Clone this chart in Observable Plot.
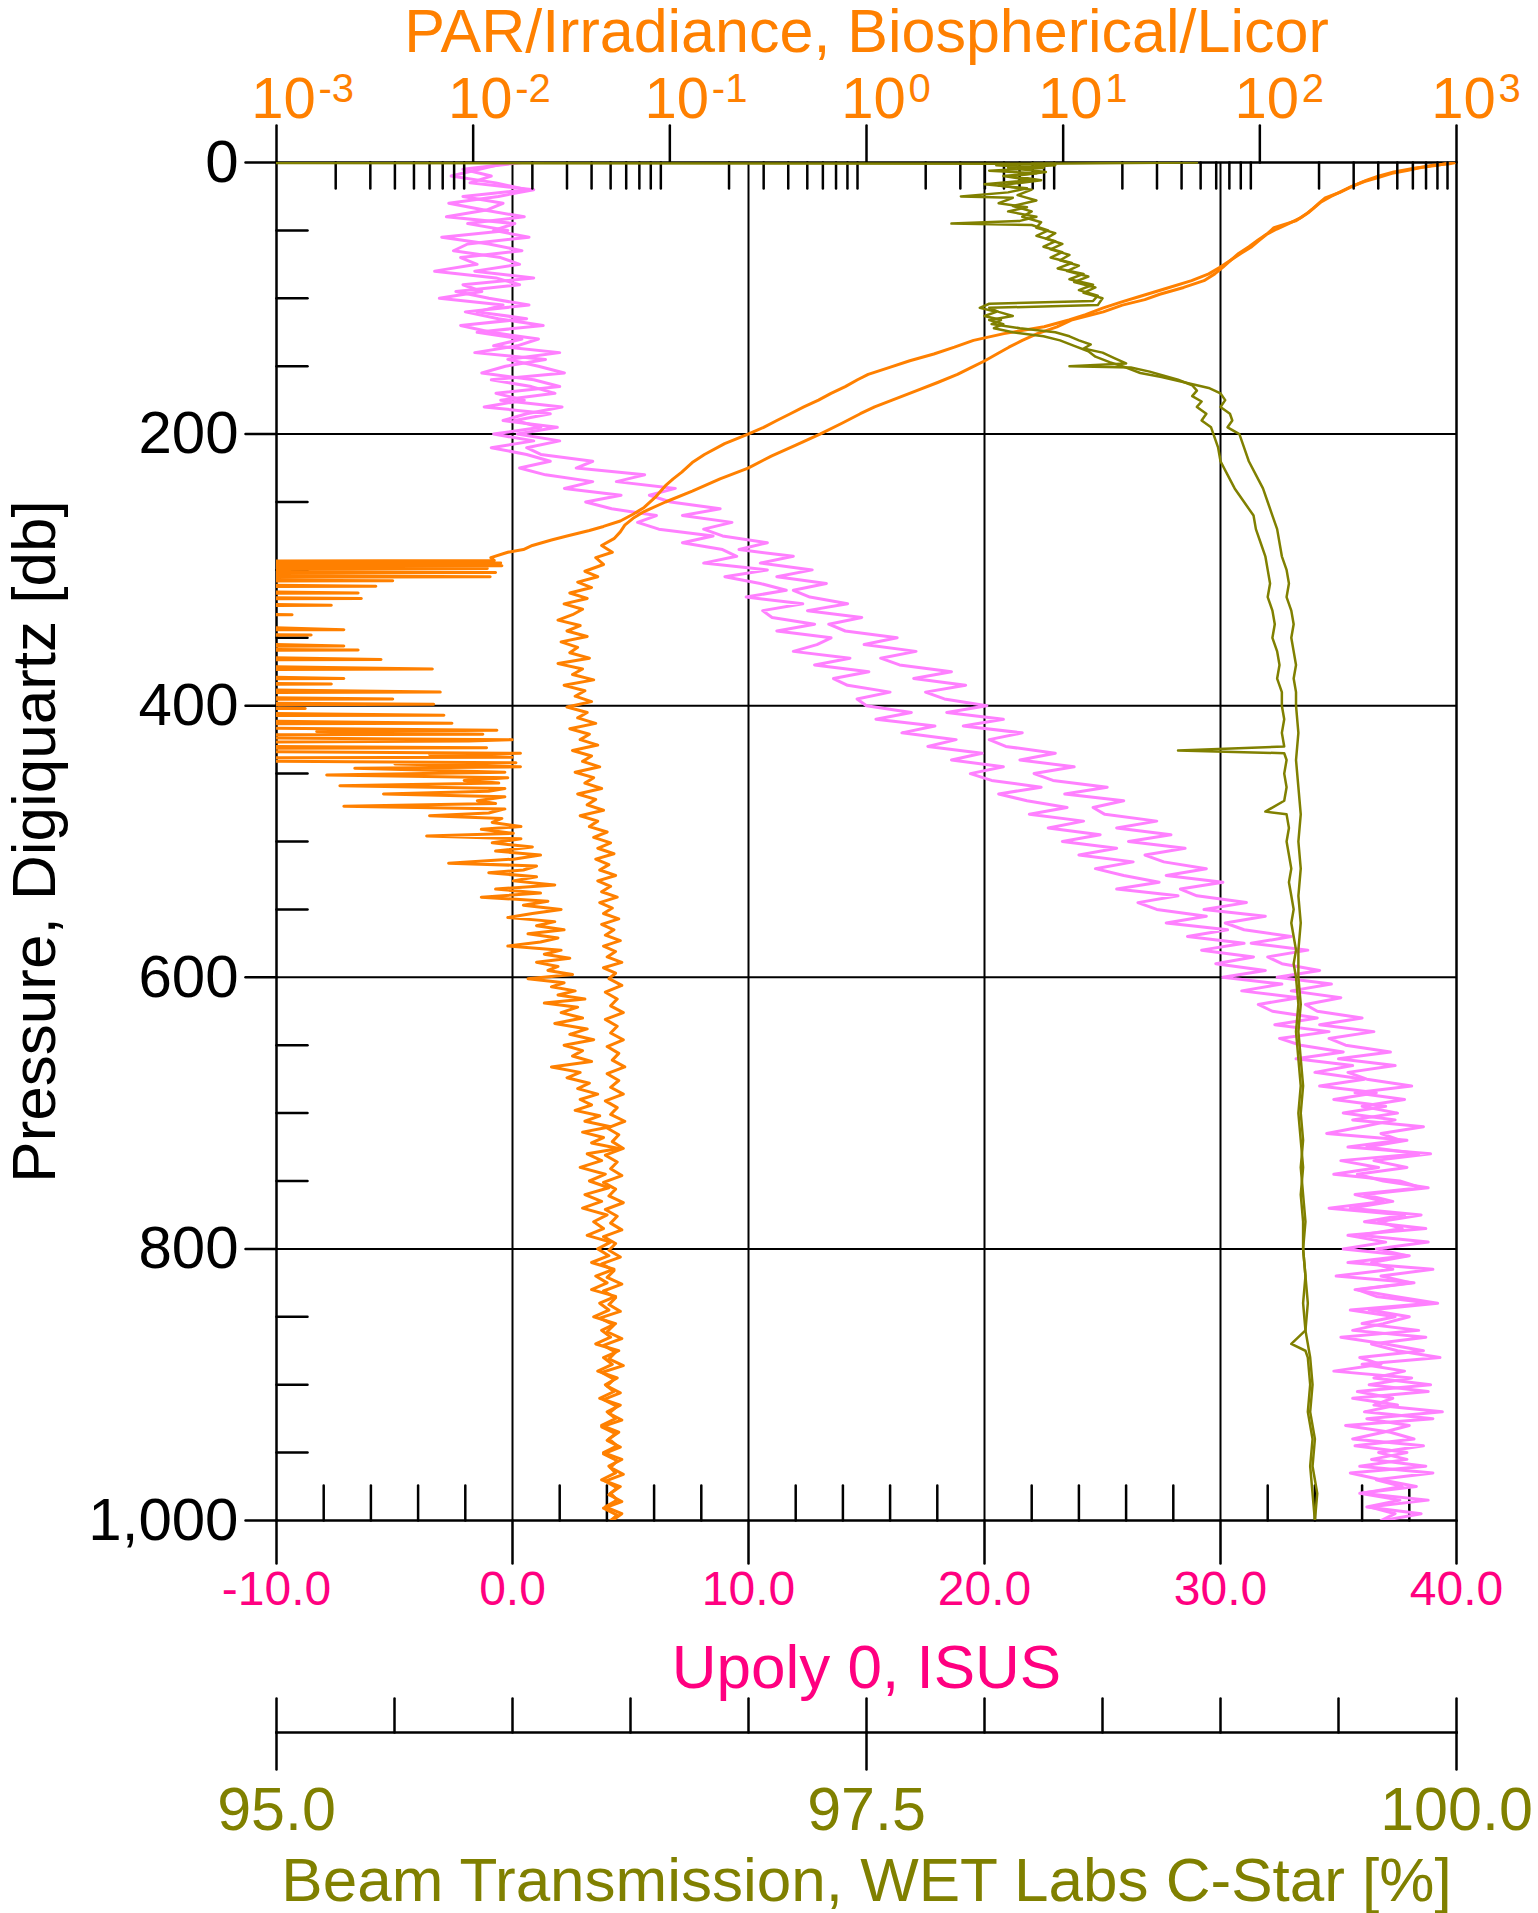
<!DOCTYPE html>
<html><head><meta charset="utf-8">
<script src="https://cdn.jsdelivr.net/npm/d3@7"></script>
<script src="https://cdn.jsdelivr.net/npm/@observablehq/plot@0.6"></script>
<style>
body{margin:0;background:#fff;}
#chart{position:relative;width:1538px;height:1913px;}
#chart svg{position:absolute;left:0;top:0;background:transparent !important;}
</style></head><body><div id="chart"></div>
<script>
// ---------------- DATA ----------------
const pressureTicks = [0, 200, 400, 600, 800, 1000];
const pressureMinor = [50,100,150,250,300,350,450,500,550,650,700,750,850,900,950];
const upolyTicks = [-10, 0, 10, 20, 30, 40];
const upolyMinor = [-8,-6,-4,-2,2,4,6,8,12,14,16,18,22,24,26,28,32,34,36,38];
const parDecades = [1e-3, 1e-2, 1e-1, 1, 10, 100, 1000];
const parExponents = ["-3", "-2", "-1", "0", "1", "2", "3"];
const beamTicks = [95,95.5,96,96.5,97,97.5,98,98.5,99,99.5,100];
const beamMajor = [95, 97.5, 100];

const parTitle = "PAR/Irradiance, Biospherical/Licor";
const upolyTitle = "Upoly 0, ISUS";
const beamTitle = "Beam Transmission, WET Labs C-Star [%]";
const pressureTitle = "Pressure, Digiquartz [db]";

// Upoly (ISUS) casts, one value every 5 db from 0 to 1000
const upolyDepth = d3.range(0, 1001, 5);
const upolyCastA = [
-0.2,-1.4,-2.6,-0.7,0.6,-2.1,-0.4,-1.1,-2.8,0.1,-0.8,0.7,-1.9,-2.5,-0.5,0.3,-1.6,0.9,-2.1,-1.3,
-3.1,-0.4,-1.5,0.6,-2.2,-0.9,1.1,0.2,-1.6,1.4,-0.3,-1.3,0.9,2.0,-0.7,0.5,-1.2,1.6,0.1,1.2,
-0.8,0.9,-0.9,0.6,1.6,0.3,1.4,3.4,2.2,4.6,3.1,4.2,6.1,5.3,6.2,8.5,7.2,8.9,9.5,8.1,
10.8,9.0,10.5,11.6,9.9,12.3,10.6,11.0,12.8,11.2,13.5,12.9,11.9,14.3,12.8,15.1,13.6,14.2,16.0,14.6,
15.0,16.9,15.4,17.9,16.5,18.8,17.6,19.9,18.6,20.8,19.4,20.3,22.4,20.6,21.8,23.5,21.9,24.2,22.7,24.9,
23.3,25.6,24.0,26.3,24.7,25.9,27.4,25.6,28.2,26.5,27.3,29.4,27.7,30.3,28.6,31.0,29.2,31.4,29.8,31.9,
30.1,32.6,30.9,33.3,31.6,32.2,34.1,32.3,34.6,32.5,33.4,35.2,33.2,35.6,34.0,36.1,34.2,36.6,34.8,37.0,
35.2,37.4,36.0,34.5,37.9,36.2,38.4,35.1,36.7,34.8,37.6,38.5,35.7,36.9,34.6,37.8,36.1,38.7,35.4,37.0,
35.2,38.0,36.4,37.3,34.9,38.2,35.8,36.6,38.9,35.5,37.4,36.0,38.4,35.1,37.0,38.6,35.9,36.8,34.8,38.1,
36.3,38.8,35.6,37.5,36.1,39.0,35.3,37.2,38.2,35.7,37.9,36.4,38.7,35.5,36.8,38.3,35.9,37.6,36.2,38.5,
36.9];
const upolyCastB = [
0.4,-2.1,-0.9,-1.8,0.9,-0.6,-2.7,-1.2,0.5,-1.9,-0.2,-3.0,-1.0,0.4,-2.2,-1.5,-3.3,-0.7,0.3,-2.4,
-1.0,0.7,-2.0,-0.6,1.3,-1.5,0.4,-0.8,2.0,-0.2,1.1,2.2,-0.9,0.8,1.8,-0.5,2.1,0.6,-0.4,1.9,
0.2,2.0,0.6,1.2,3.4,2.7,5.6,4.4,6.9,5.8,6.7,8.8,7.2,9.3,8.1,8.9,10.8,9.6,11.9,10.5,
12.7,11.2,13.3,11.9,12.6,14.2,12.5,14.8,13.4,14.1,16.3,14.9,17.1,15.6,16.4,18.6,17.0,19.2,17.5,18.3,
20.1,18.4,20.8,19.1,21.6,20.2,20.9,23.0,21.5,23.8,22.1,22.9,25.2,23.4,25.9,24.6,25.1,27.3,25.6,27.9,
26.1,28.5,26.8,27.6,29.4,27.7,30.1,28.3,29.0,31.1,29.3,31.9,30.2,31.0,33.0,31.3,33.7,32.0,32.6,34.2,
32.4,34.7,33.0,35.1,33.6,34.1,36.0,34.2,36.5,34.6,35.3,37.2,35.0,37.4,35.4,36.2,38.1,35.7,37.8,36.0,
37.5,35.6,38.6,36.8,37.6,35.4,38.9,36.5,37.9,35.8,36.9,38.8,36.1,37.3,35.5,38.5,36.7,37.7,35.9,38.8,
36.6,37.9,35.4,39.0,36.8,38.1,35.7,37.4,39.2,36.3,38.0,36.9,35.6,38.7,36.4,37.5,39.3,36.0,37.8,36.5,
38.9,35.8,37.3,36.5,39.4,36.2,38.0,36.9,35.6,38.6,36.7,37.9,35.9,39.0,36.6,37.7,36.0,38.8,36.3,37.4,
36.8];

// PAR casts: [pressure db, PAR]; 1e-5 = below the 10^-3 axis floor
const parCastL = [
[0,1000],[1,920],[2,760],[4,640],[6,560],[8,470],[11,400],[14,340],[18,290],[22,255],[26,215],[30,200],[34,186],[38,172],[43,152],[48,118],[52,110],[57,98],[62,88],[67,78],[72,71],[77,63],[82,55],[87,45],[93,33],[99,24],[103,19.5],[107,16],[112,13],[116,10.7],[121,8.0],[126,5.0],[131,3.5],[136,2.8],[141,2.2],[146,1.66],[151,1.3],[156,1.02],[160,0.9],[165,0.78],[170,0.66],[175,0.57],[180,0.48],[185,0.41],[190,0.35],[195,0.3],[200,0.25],[207,0.19],[215,0.15],[221,0.13],[228,0.115],[233,0.104],[238,0.095],[246,0.085],[254,0.074],[259,0.065],[264,0.056],[268,0.046],[271,0.039],[275,0.03],[278,0.025],[282,0.02],[285,0.018],[287,0.015],[291,0.0123],
[293,0.0128],[294,1e-5],[295,0.0138],[296,1e-5],[297,0.014],[298,1e-5],[299,0.0118],[300,1e-5],[302,0.013],[303,1e-5],[305,0.0122],[306,1e-5],[308,0.0039],[309,1e-5],[312,0.0032],[313,1e-5],[317,0.0026],[318,1e-5],[321,0.0027],[322,1e-5],[326,0.0019],[327,1e-5],[333,0.0012],[334,1e-5],[344,0.0022],[345,1e-5],[348,0.0015],[349,1e-5],[356,0.0022],[357,1e-5],[359,0.0026],[360,1e-5],[366,0.0034],[367,1e-5],[373,0.0062],[374,1e-5],[380,0.0022],[381,1e-5],[384,0.0019],[385,1e-5],[390,0.0068],[391,1e-5],[395,0.0039],[396,1e-5],[399,0.0063],[400,1e-5],[402,0.0014],[403,1e-5],[407,0.0071],[408,1e-5],[413,0.0078],[414,1e-5],[418,0.0132],[419,0.0016],[421,0.0112],[422,1e-5],[425,0.0158],[426,0.0095],[428,1e-5],[431,0.0117],[432,1e-5],[435,0.0174],[436,0.006],[438,0.0158],[439,1e-5],[442,0.0165],[443,0.004],[445,0.0174],[446,0.0025],[449,0.0145],[451,0.0018],[453,0.015],[455,0.009],[457,0.0135],[459,0.0021],[461,0.0145],[463,0.012],[465,0.0035],[467,0.0145],[470,0.0105],[472,0.013],[474,0.0022],[476,0.0145],[479,0.012],[481,0.006],[483,0.014],[486,0.0125],[489,0.0175],[491,0.011],[494,0.016],[496,0.0058],[498,0.0175],[501,0.0125],[504,0.02],[507,0.013],[510,0.022],[513,0.016],[516,0.0075],[518,0.021],[521,0.018],
[523,0.012],[526,0.021],[529,0.016],[532,0.026],[535,0.013],[538,0.022],[541,0.011],[544,0.024],[547,0.018],[550,0.028],[553,0.02],[556,0.015],[559,0.026],[562,0.021],[565,0.029],[568,0.019],[571,0.027],[574,0.022],[577,0.015],[580,0.028],[583,0.023],[586,0.031],[589,0.021],[592,0.027],[595,0.024],[598,0.032],[601,0.019],[604,0.029],[607,0.025],[610,0.033],[613,0.027],[616,0.037],[619,0.023],[622,0.034],[626,0.028],[630,0.036],[634,0.026],[638,0.038],[642,0.031],[646,0.041],[650,0.029],[654,0.036],[658,0.032],[662,0.04],[666,0.025],[670,0.035],[674,0.03],[678,0.039],[682,0.034],[686,0.043],[690,0.035],[694,0.04],[698,0.033],[702,0.044],[706,0.037],[710,0.05],[714,0.036],[718,0.046],[722,0.04],[726,0.055],[730,0.038],[735,0.045],[740,0.035],[745,0.047],[750,0.039],[755,0.049],[760,0.037],[765,0.045],[770,0.036],[775,0.048],[780,0.041],[785,0.046],[790,0.038],[795,0.05],[800,0.043],
[805,0.049],[810,0.04],[815,0.052],[820,0.042],[825,0.048],[830,0.04],[835,0.053],[840,0.044],[845,0.049],[850,0.041],[855,0.053],[860,0.045],[865,0.05],[870,0.042],[875,0.055],[880,0.046],[885,0.051],[890,0.043],[895,0.054],[900,0.047],[905,0.052],[910,0.044],[915,0.056],[920,0.048],[925,0.053],[930,0.045],[935,0.055],[940,0.049],[945,0.054],[950,0.046],[955,0.057],[960,0.049],[965,0.053],[970,0.045],[975,0.056],[980,0.05],[985,0.054],[990,0.047],[995,0.057],[1000,0.051]];

const parCastR = [
[0,950],[2,800],[4,620],[7,480],[10,400],[13,350],[17,300],[21,262],[25,230],[29,205],[33,190],[37,176],[41,160],[45,140],[49,122],[53,108],[57,100],[62,91],[67,80],[72,71],[77,65],[82,59],[87,52],[92,41],[97,31],[101,26],[105,20],[110,16],[116,11],[121,9.3],[126,7.4],[131,6.2],[136,5.3],[141,4.6],[146,4.0],[151,3.4],[156,2.9],[162,2.3],[168,1.8],[175,1.35],[180,1.1],[185,0.93],[192,0.75],[200,0.58],[208,0.44],[216,0.33],[225,0.25],[233,0.18],[242,0.13],[250,0.095],[257,0.074],[262,0.065],[267,0.059],[272,0.056],[277,0.052],[282,0.045],[287,0.051],[291,0.042],[296,0.046],[301,0.037],[305,0.043],[309,0.034],[313,0.04],[317,0.031],[321,0.038],[325,0.029],[329,0.036],[333,0.032],[337,0.027],[341,0.035],[345,0.03],[349,0.038],[353,0.028],[357,0.034],[361,0.031],[365,0.039],[369,0.027],[373,0.036],[377,0.032],[381,0.041],[385,0.029],[389,0.037],[393,0.033],[397,0.04],[401,0.03],[405,0.038],[409,0.034],[413,0.042],[417,0.031],[421,0.039],[425,0.035],[429,0.043],[433,0.032],[437,0.04],[441,0.036],[445,0.044],[449,0.033],[453,0.041],[457,0.037],[461,0.045],[465,0.034],[469,0.042],[473,0.038],[477,0.046],[481,0.035],[485,0.043],[489,0.039],[493,0.048],[497,0.041],[501,0.05],[505,0.043],[509,0.052],[513,0.042],[517,0.049],[521,0.044],[525,0.053],[529,0.043],[533,0.05],[537,0.045],[541,0.054],[545,0.044],[549,0.051],[553,0.046],[557,0.055],[561,0.045],[565,0.052],[569,0.047],[573,0.056],[577,0.046],[581,0.053],[585,0.048],[589,0.057],[593,0.046],[597,0.053],[601,0.049],[606,0.057],[611,0.047],[616,0.054],[621,0.05],[626,0.058],[631,0.047],[636,0.054],[641,0.05],[646,0.058],[651,0.048],[656,0.055],[661,0.051],[666,0.059],[671,0.048],[676,0.055],[681,0.05],[686,0.058],[691,0.047],[696,0.054],[701,0.05],[706,0.059],[711,0.048],[716,0.055],[721,0.051],[726,0.058],[731,0.047],[736,0.054],[741,0.05],[746,0.057],[751,0.046],[756,0.053],[761,0.049],[766,0.058],[771,0.047],[776,0.054],[781,0.05],[786,0.057],[791,0.046],[796,0.053],[801,0.049],[806,0.056],[811,0.045],[816,0.052],[821,0.048],[826,0.057],[831,0.046],[836,0.053],[841,0.049],[846,0.056],[851,0.044],[856,0.052],[861,0.048],[866,0.057],[871,0.046],[876,0.053],[881,0.049],[886,0.058],[891,0.045],[896,0.052],[901,0.048],[906,0.056],[911,0.046],[916,0.054],[921,0.049],[926,0.057],[931,0.045],[936,0.053],[941,0.048],[946,0.056],[951,0.046],[956,0.054],[961,0.05],[966,0.058],[971,0.047],[976,0.054],[981,0.049],[986,0.057],[991,0.046],[996,0.054],[1000,0.05]];

// Beam transmission casts: [pressure db, %]
const beamCastA = [
[0,93],[1,98.3],[2,98.05],[4,98.25],[6,98.02],[8,98.22],[10,98.08],[13,98.2],[16,98.0],[19,98.18],[22,98.1],[25,97.9],[26,98.12],[30,98.06],[33,98.18],[36,98.1],[40,98.22],[43,98.15],[45,97.86],[46,98.2],[50,98.27],[54,98.22],[58,98.3],[62,98.25],[66,98.33],[70,98.28],[74,98.37],[78,98.31],[82,98.42],[86,98.36],[90,98.46],[94,98.4],[98,98.48],[102,98.46],[104,98.02],[107,97.98],[110,98.05],[113,98.0],[116,98.07],[119,98.03],[122,98.15],[125,98.3],[128,98.36],[131,98.4],[134,98.45],[137,98.42],[140,98.5],[144,98.55],[148,98.6],[150,98.36],[151,98.62],[154,98.7],[157,98.76],[160,98.82],[164,98.88],[168,98.9],[172,98.88],[176,98.92],[180,98.9],[185,98.94],[190,98.92],[195,98.96],[200,98.97],[210,98.99],[220,99.0],[230,99.03],[240,99.06],[250,99.1],[260,99.14],[270,99.15],[280,99.17],[290,99.19],[300,99.2],[310,99.21],[320,99.2],[330,99.22],[340,99.23],[350,99.22],[360,99.24],[370,99.25],[380,99.24],[390,99.26],[400,99.26],[410,99.27],[420,99.26],[430,99.27],[433,98.82],[435,99.27],[440,99.28],[450,99.27],[460,99.28],[470,99.27],[478,99.19],[480,99.28],[490,99.29],[500,99.28],[510,99.29],[520,99.3],[530,99.29],[540,99.3],[550,99.31],[560,99.3],[570,99.31],[580,99.32],[590,99.31],[600,99.32],[620,99.33],[640,99.32],[660,99.33],[680,99.34],[700,99.33],[720,99.34],[740,99.35],[760,99.34],[780,99.35],[800,99.35],[820,99.36],[840,99.35],[860,99.36],[870,99.3],[875,99.36],[880,99.37],[900,99.38],[920,99.37],[940,99.39],[960,99.38],[980,99.39],[1000,99.4]];
const beamCastB = [
[0,98.9],[1,98.2],[2,98.3],[4,98.1],[7,98.26],[10,98.12],[13,98.24],[17,98.06],[20,98.2],[24,98.14],[28,98.22],[32,98.12],[36,98.2],[40,98.16],[44,98.24],[48,98.22],[52,98.3],[56,98.26],[60,98.33],[64,98.28],[68,98.36],[72,98.32],[76,98.4],[80,98.35],[84,98.44],[88,98.38],[92,98.47],[96,98.42],[100,98.5],[105,98.48],[107,98.02],[110,98.06],[113,98.12],[116,98.02],[119,98.08],[122,98.04],[125,98.12],[128,98.25],[131,98.32],[135,98.38],[139,98.44],[143,98.47],[147,98.53],[151,98.6],[155,98.66],[158,98.75],[162,98.85],[166,98.95],[170,99.0],[175,99.02],[180,99.0],[185,99.04],[190,99.05],[195,99.03],[200,99.08],[210,99.1],[220,99.12],[230,99.15],[240,99.18],[250,99.2],[260,99.22],[270,99.24],[280,99.25],[290,99.26],[300,99.28],[310,99.29],[320,99.28],[330,99.3],[340,99.31],[350,99.3],[360,99.31],[370,99.32],[380,99.31],[390,99.32],[400,99.32],[420,99.33],[440,99.32],[460,99.33],[480,99.34],[500,99.33],[520,99.34],[540,99.33],[560,99.34],[580,99.33],[600,99.33],[620,99.34],[640,99.33],[660,99.34],[680,99.35],[700,99.34],[720,99.35],[740,99.34],[760,99.35],[780,99.36],[800,99.35],[820,99.36],[840,99.37],[860,99.36],[880,99.38],[900,99.39],[920,99.38],[940,99.4],[960,99.39],[980,99.41],[1000,99.4]];

// ---------------- STYLE / LAYOUT ----------------
const W = 1538, H = 1913;
const M = {marginTop: 162, marginBottom: 393, marginLeft: 276, marginRight: 82};
const FONT = "'Liberation Sans', Arial, sans-serif";
const ORANGE = "#FF8000", PINK = "#FF80FF", MAGENTA = "#FF0080", OLIVE = "#808000";
const tick = {draw(c, l) { c.moveTo(0, 0); c.lineTo(0, -l); }};
const svgStyle = {background: "transparent", fontFamily: FONT, overflow: "visible"};
const yScale = {domain: [0, 1000], reverse: true, axis: null};
const parMinor = [0.001, 0.01, 0.1, 1, 10, 100].flatMap(d => [2,3,4,5,6,7,8,9].map(m => m * d));

const base = Plot.plot({
  width: W, height: H, ...M, style: svgStyle,
  x: {domain: [-10, 40], axis: null}, y: yScale,
  marks: [
    Plot.ruleX([0, 10, 20, 30], {x: d => d, stroke: "#000", strokeWidth: 2}),
    Plot.ruleY([200, 400, 600, 800], {y: d => d, stroke: "#000", strokeWidth: 2}),
    Plot.frame({stroke: "#000", strokeWidth: 2.5}),
    Plot.vector(pressureTicks, {y: d => d, frameAnchor: "left", length: 31, rotate: -90, anchor: "start", shape: tick, stroke: "#000", strokeWidth: 2.5}),
    Plot.vector(pressureMinor, {y: d => d, frameAnchor: "left", length: 31, rotate: 90, anchor: "start", shape: tick, stroke: "#000", strokeWidth: 2.5}),
    Plot.text(pressureTicks, {y: d => d, frameAnchor: "left", dx: -38, textAnchor: "end", text: d => d3.format(",")(d), fontSize: 60, fontFamily: FONT, fill: "#000"}),
    Plot.vector(upolyTicks, {x: d => d, frameAnchor: "bottom", length: 43, rotate: 180, anchor: "start", shape: tick, stroke: "#000", strokeWidth: 2.5}),
    Plot.vector(upolyMinor, {x: d => d, frameAnchor: "bottom", length: 35, rotate: 0, anchor: "start", shape: tick, stroke: "#000", strokeWidth: 2.5}),
    Plot.text(upolyTicks, {x: d => d, frameAnchor: "bottom", dy: 50, lineAnchor: "top", text: d => d.toFixed(1), fontSize: 48, fontFamily: FONT, fill: MAGENTA}),
    Plot.text([upolyTitle], {frameAnchor: "bottom", dy: 167, lineAnchor: "bottom", fontSize: 62, fontFamily: FONT, fill: MAGENTA}),
    Plot.text([pressureTitle], {frameAnchor: "left", dx: -241, rotate: -90, textAnchor: "middle", lineAnchor: "middle", fontSize: 62, fontFamily: FONT, fill: "#000"}),
    Plot.line(upolyCastA, {x: d => d, y: (d, i) => upolyDepth[i], stroke: PINK, strokeWidth: 3, clip: true}),
    Plot.line(upolyCastB, {x: d => d, y: (d, i) => upolyDepth[i], stroke: PINK, strokeWidth: 3, clip: true})
  ]
});

const par = Plot.plot({
  width: W, height: H, ...M, style: svgStyle,
  x: {type: "log", domain: [1e-3, 1e3], axis: null}, y: yScale,
  marks: [
    Plot.line(parCastR, {x: d => d[1], y: d => d[0], stroke: ORANGE, strokeWidth: 3, clip: true}),
    Plot.line(parCastL, {x: d => d[1], y: d => d[0], stroke: ORANGE, strokeWidth: 3, clip: true}),
    Plot.vector(parDecades, {x: d => d, frameAnchor: "top", length: 37, rotate: 0, anchor: "start", shape: tick, stroke: "#000", strokeWidth: 2.5}),
    Plot.vector(parMinor, {x: d => d, frameAnchor: "top", length: 26, rotate: 180, anchor: "start", shape: tick, stroke: "#000", strokeWidth: 2.5}),
    Plot.text(parDecades, {x: d => d, frameAnchor: "top", dx: 7, dy: -45, lineAnchor: "bottom", textAnchor: "middle", text: () => "10", fontSize: 58, fontFamily: FONT, fill: ORANGE}),
    Plot.text(parDecades, {x: d => d, frameAnchor: "top", dx: 42, dy: -61, lineAnchor: "bottom", textAnchor: "start", text: (d, i) => parExponents[i], fontSize: 40, fontFamily: FONT, fill: ORANGE}),
    Plot.text([parTitle], {frameAnchor: "top", dy: -111, lineAnchor: "bottom", textAnchor: "middle", fontSize: 61, fontFamily: FONT, fill: ORANGE})
  ]
});

const beam = Plot.plot({
  width: W, height: H, ...M, style: svgStyle,
  x: {domain: [95, 100], axis: null}, y: yScale,
  marks: [
    Plot.line(beamCastA, {x: d => d[1], y: d => d[0], stroke: OLIVE, strokeWidth: 2.5, clip: true}),
    Plot.line(beamCastB, {x: d => d[1], y: d => d[0], stroke: OLIVE, strokeWidth: 2.5, clip: true})
  ]
});

const beamAxis = Plot.plot({
  width: W, height: H, marginTop: 1732, marginBottom: 144, marginLeft: 276, marginRight: 82, style: svgStyle,
  x: {domain: [95, 100], axis: null},
  marks: [
    Plot.frame({anchor: "top", stroke: "#000", strokeWidth: 2.5}),
    Plot.vector(beamTicks, {x: d => d, frameAnchor: "top", length: 34, rotate: 0, anchor: "start", shape: tick, stroke: "#000", strokeWidth: 2.5}),
    Plot.vector(beamMajor, {x: d => d, frameAnchor: "top", length: 37, rotate: 180, anchor: "start", shape: tick, stroke: "#000", strokeWidth: 2.5}),
    Plot.text(beamMajor, {x: d => d, frameAnchor: "bottom", dy: 17, lineAnchor: "top", text: d => d.toFixed(1), fontSize: 61, fontFamily: FONT, fill: OLIVE}),
    Plot.text([beamTitle], {frameAnchor: "bottom", dy: 131, lineAnchor: "bottom", fontSize: 62, fontFamily: FONT, fill: OLIVE})
  ]
});

const chart = document.getElementById("chart");
[base, par, beam, beamAxis].forEach(s => chart.appendChild(s));
</script></body></html>
